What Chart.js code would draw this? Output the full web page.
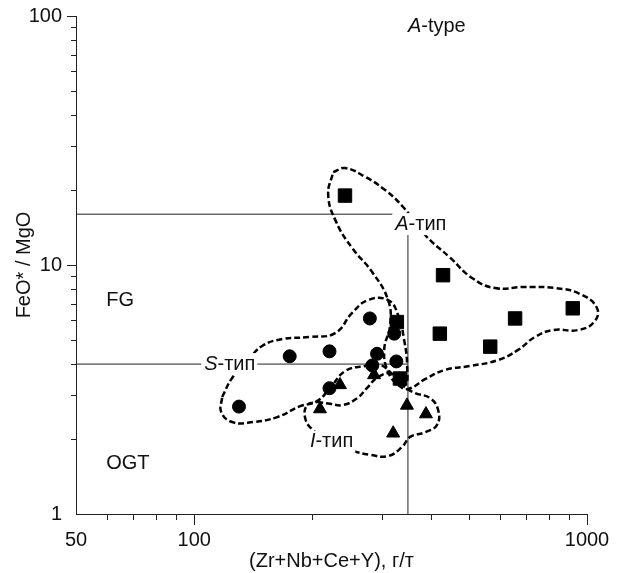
<!DOCTYPE html>
<html>
<head>
<meta charset="utf-8">
<script src="https://cdn.jsdelivr.net/npm/chart.js@4.4.1/dist/chart.umd.min.js"></script>
<style>
  html, body { margin: 0; padding: 0; background: #fff; }
</style>
</head>
<body>
<canvas id="chart" width="625" height="573"></canvas>
<script>
// Diagram FeO*/MgO vs (Zr+Nb+Ce+Y) - log-log
const FONT = "'Liberation Sans', Arial, Helvetica, sans-serif";

// axis ticks
const xTicks = [50, 60, 70, 80, 90, 100, 200, 300, 400, 500, 600, 700, 800, 900, 1000];
const xTickLabels = [50, 100, 1000];
const yTicks = [1, 2, 3, 4, 5, 6, 7, 8, 9, 10, 20, 30, 40, 50, 60, 70, 80, 90, 100];
const yTickLabels = [1, 10, 100];

// samples
const squareX = [242, 430, 422, 656, 567, 920, 328, 334];
const squareY = [19.0, 9.1, 5.3, 6.1, 4.7, 6.7, 5.9, 3.5];
const circleX = [130, 175, 221, 280, 323, 292, 284, 327, 221];
const circleY = [2.7, 4.3, 4.5, 6.1, 5.3, 4.4, 3.95, 4.1, 3.2];
const triangleX = [235, 209, 287, 348, 389, 321];
const triangleY = [3.3, 2.64, 3.62, 2.73, 2.52, 2.11];

// dashed fields
const aFieldX = [225.8, 242.2, 272.3, 306.2, 340.3, 387.0, 448.2, 509.8, 583.3, 695.5, 828.9, 959.8, 1060, 1042,
                 948.6, 819.3, 737.4, 667.5, 593.6, 503.9, 435.2, 387.0, 350.4, 330.4, 311.6, 304.5, 315.3, 311.6,
                 283.8, 252.4, 229.8, 219.3, 225.8];
const aFieldY = [23.6, 24.5, 22.6, 20.0, 17.1, 13.2, 10.7, 8.87, 8.08, 8.16, 8.08, 7.65, 6.72, 5.90,
                 5.48, 5.48, 5.14, 4.56, 4.15, 3.93, 3.79, 3.48, 3.18, 3.30, 3.72, 4.56, 5.74, 7.23,
                 9.37, 11.7, 14.9, 19.1, 23.6];
const sFieldX = [117.8, 124.9, 137.2, 148.9, 167.5, 197.3, 228.5, 252.4, 277.2, 311.6, 330.4, 342.3, 348.3, 344.3,
                 321.0, 297.4, 272.3, 242.2, 221.9, 205.6, 186.1, 162.6, 141.3, 124.9, 117.1, 117.8];
const sFieldY = [2.95, 3.52, 4.15, 4.73, 5.04, 5.14, 5.33, 6.42, 7.23, 7.23, 6.30, 5.00, 3.97, 3.30,
                 3.62, 3.97, 3.93, 3.75, 3.21, 2.84, 2.71, 2.45, 2.34, 2.34, 2.57, 2.95];
const iFieldX = [205.6, 221.9, 239.4, 259.9, 275.5, 293.9, 317.2, 340.3, 365.0, 398.5, 417.7, 415.2, 387.0, 354.5,
                 338.2, 311.6, 280.4, 249.5, 221.9, 200.8, 191.6, 193.9, 205.6];
const iFieldY = [2.82, 2.77, 2.74, 2.92, 3.21, 3.55, 3.65, 3.27, 3.06, 2.92, 2.62, 2.28, 2.13, 2.04,
                 1.86, 1.71, 1.73, 1.81, 1.98, 2.17, 2.43, 2.74, 2.82];

// discrimination lines
const boundSum = 350;
const boundA = 16;
const boundS = 4;

// text in the plot
const plainLabels = ['FG', 'OGT'];
const plainX = [59.7, 59.7];
const plainY = [7.2, 1.6];
const typeItalic = ['A', 'A', 'S', 'I'];
const typeRest = ['-type', '-тип', '-тип', '-тип'];
const typeX = [350, 325, 106, 197];
const typeY = [91, 14.6, 4.0, 1.95];
const typeMask = [false, true, true, true];

const pts = (xs, ys) => xs.map((v, i) => ({ x: v, y: ys[i] }));

function marker(data, style, radius) {
    return {
        data: data,
        pointStyle: style,
        pointRadius: radius,
        backgroundColor: '#000',
        borderColor: '#000',
        borderWidth: 1,
        showLine: false
    };
}

function field(data) {
    return {
        data: data,
        showLine: true,
        pointRadius: 0,
        borderColor: '#000',
        borderWidth: 2.5,
        borderDash: [6, 3],
        tension: 0.45,
        capBezierPoints: false,
        fill: false,
        clip: false,
        order: 5
    };
}

function bound(data) {
    return {
        data: data,
        showLine: true,
        pointRadius: 0,
        borderColor: '#222',
        borderWidth: 1,
        tension: 0,
        fill: false,
        order: 6
    };
}

const tickMarks = {
    id: 'tickMarks',
    afterDraw(chart) {
        const { ctx, chartArea, scales: { x, y } } = chart;
        ctx.save();
        ctx.strokeStyle = '#222';
        ctx.lineWidth = 1;
        ctx.beginPath();
        x.ticks.forEach(t => {
            if (t.value <= x.min) return;
            const px = Math.round(x.getPixelForValue(t.value)) + 0.5;
            const len = xTickLabels.includes(t.value) ? 11 : 6;
            ctx.moveTo(px, chartArea.bottom);
            ctx.lineTo(px, chartArea.bottom + len);
        });
        y.ticks.forEach(t => {
            if (t.value <= y.min) return;
            const py = Math.round(y.getPixelForValue(t.value)) + 0.5;
            const len = yTickLabels.includes(t.value) ? 9 : 5;
            ctx.moveTo(chartArea.left, py);
            ctx.lineTo(chartArea.left - len, py);
        });
        ctx.stroke();
        ctx.restore();
    }
};

const fieldLabels = {
    id: 'fieldLabels',
    afterDatasetsDraw(chart) {
        const { ctx, scales: { x, y } } = chart;
        ctx.save();
        ctx.textBaseline = 'middle';
        ctx.textAlign = 'left';
        ctx.fillStyle = '#111';
        ctx.font = `20px ${FONT}`;
        plainLabels.forEach((txt, i) => {
            ctx.fillText(txt, x.getPixelForValue(plainX[i]), y.getPixelForValue(plainY[i]));
        });
        typeItalic.forEach((it, i) => {
            const px = x.getPixelForValue(typeX[i]);
            const py = y.getPixelForValue(typeY[i]);
            ctx.font = `italic 20px ${FONT}`;
            const w1 = ctx.measureText(it).width;
            ctx.font = `20px ${FONT}`;
            const w2 = ctx.measureText(typeRest[i]).width;
            if (typeMask[i]) {
                ctx.fillStyle = '#fff';
                ctx.fillRect(px - 3, py - 11, w1 + w2 + 5, 22);
                ctx.fillStyle = '#111';
            }
            ctx.font = `italic 20px ${FONT}`;
            ctx.fillText(it, px, py);
            ctx.font = `20px ${FONT}`;
            ctx.fillText(typeRest[i], px + w1, py);
        });
        ctx.restore();
    }
};

new Chart(document.getElementById('chart'), {
    type: 'scatter',
    data: {
        datasets: [
            Object.assign(marker(pts(triangleX, triangleY), 'triangle', 7.5), { order: 0 }),
            Object.assign(marker(pts(squareX, squareY), 'rect', 9.5), { order: 1 }),
            Object.assign(marker(pts(circleX, circleY), 'circle', 6.5), { order: 2 }),
            field(pts(aFieldX, aFieldY)),
            field(pts(sFieldX, sFieldY)),
            field(pts(iFieldX, iFieldY)),
            bound([{ x: 50, y: boundA }, { x: boundSum, y: boundA }]),
            bound([{ x: 50, y: boundS }, { x: boundSum, y: boundS }]),
            bound([{ x: boundSum, y: 1 }, { x: boundSum, y: boundA }])
        ]
    },
    options: {
        responsive: false,
        animation: false,
        events: [],
        layout: { padding: { top: 16, right: 38, left: 0, bottom: 0 } },
        plugins: {
            legend: { display: false },
            tooltip: { enabled: false }
        },
        scales: {
            x: {
                type: 'logarithmic',
                min: 50,
                max: 1000,
                afterBuildTicks: s => { s.ticks = xTicks.map(v => ({ value: v })); },
                afterFit: s => { s.height = 59; s.paddingLeft = 0; s.paddingRight = 0; },
                grid: { display: false, drawTicks: false },
                border: { display: true, color: '#222', width: 1 },
                ticks: {
                    autoSkip: false,
                    maxRotation: 0,
                    padding: 14,
                    color: '#111',
                    font: { family: FONT, size: 20 },
                    callback: v => xTickLabels.includes(v) ? String(v) : ''
                },
                title: {
                    display: true,
                    text: '(Zr+Nb+Ce+Y), г/т',
                    color: '#111',
                    font: { family: FONT, size: 20, lineHeight: 1.2 },
                    padding: { top: 0, bottom: 0 }
                }
            },
            y: {
                type: 'logarithmic',
                min: 1,
                max: 100,
                afterBuildTicks: s => { s.ticks = yTicks.map(v => ({ value: v })); },
                afterFit: s => { s.width = 76; s.paddingTop = 0; s.paddingBottom = 0; },
                grid: { display: false, drawTicks: false },
                border: { display: true, color: '#222', width: 1 },
                ticks: {
                    autoSkip: false,
                    padding: 14,
                    color: '#111',
                    font: { family: FONT, size: 20 },
                    callback: v => yTickLabels.includes(v) ? String(v) : ''
                },
                title: {
                    display: true,
                    text: 'FeO* / MgO',
                    color: '#111',
                    font: { family: FONT, size: 20, lineHeight: 1.2 },
                    padding: { top: 12, bottom: 0 }
                }
            }
        }
    },
    plugins: [tickMarks, fieldLabels]
});
</script>
</body>
</html>
